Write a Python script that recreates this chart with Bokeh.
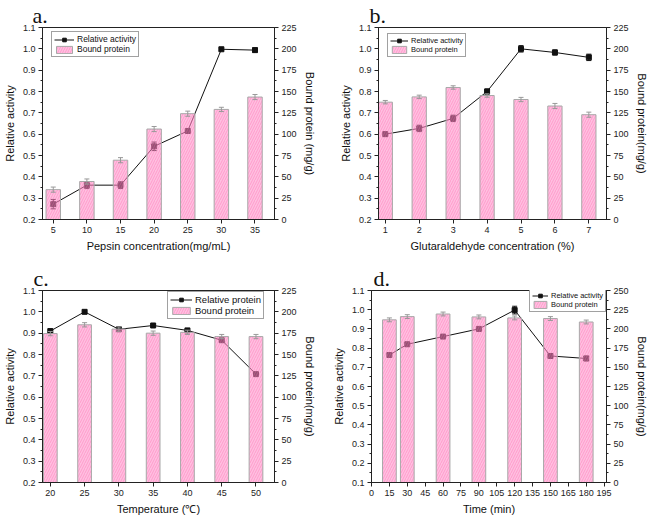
from bokeh.plotting import figure
from bokeh.models import (Range1d, LinearAxis, FixedTicker, SingleIntervalTicker,
                          NumeralTickFormatter, Legend, LegendItem, Title)
from bokeh.layouts import column, row
from bokeh.embed import file_html
from bokeh.resources import INLINE

# ---------------- data ----------------
a_x = [5, 10, 15, 20, 25, 30, 35]
a_act = [0.272, 0.361, 0.361, 0.543, 0.615, 0.998, 0.994]
a_act_err = [0.022, 0.016, 0.016, 0.02, 0.01, 0.005, 0.01]
a_prot = [35, 44.5, 69.5, 106, 124, 129, 143.5]
a_prot_err = [3, 3, 3, 3, 3, 2.5, 3]

b_x = [1, 2, 3, 4, 5, 6, 7]
b_act = [0.60, 0.627, 0.674, 0.80, 1.0, 0.983, 0.96]
b_act_err = [0.01, 0.015, 0.015, 0.012, 0.015, 0.012, 0.015]
b_prot = [137.5, 143.7, 154.7, 145.3, 140.6, 133, 122.8]
b_prot_err = [2, 2, 2, 2, 2.5, 3, 3]

c_x = [20, 25, 30, 35, 40, 45, 50]
c_act = [0.910, 1.0, 0.918, 0.936, 0.913, 0.867, 0.708]
c_act_err = [0.005, 0.004, 0.005, 0.005, 0.005, 0.006, 0.005]
c_prot = [174.5, 184.8, 179.8, 175, 176, 171, 171]
c_prot_err = [2.5, 2.5, 2.5, 2.5, 2.5, 2.5, 2.5]

d_x = [15, 30, 60, 90, 120, 150, 180]
d_act = [0.764, 0.82, 0.86, 0.90, 0.998, 0.759, 0.746]
d_act_err = [0.01, 0.01, 0.008, 0.01, 0.02, 0.012, 0.012]
d_prot = [211.8, 216, 219.4, 215.6, 214.3, 213.5, 209]
d_prot_err = [2.5, 2.5, 2.5, 2.5, 2.5, 2.5, 2.5]
d_xticks = list(range(0, 196, 15))

FONT = "Liberation Sans"
BAR_FILL = "#ff8cc6"
HATCH = "#ff5aa8"
OUTLINE = "#a8a8a8"


def panel(letter, x, act, act_err, prot, prot_err, xr, yl, yr, yl_int, yr_int,
          xticks, bar_w, xlabel, rlabel, line_label, leg_loc, leg_font, leg_gw,
          fw, fh, bl, br, bt, bb, title_off):
    p = figure(frame_width=fw, frame_height=fh, x_range=Range1d(*xr),
               y_range=Range1d(*yl), output_backend="svg", toolbar_location=None,
               min_border_left=bl, min_border_right=br, min_border_top=bt,
               min_border_bottom=bb)
    p.title = Title(text=letter, text_font="Liberation Serif", text_font_size="22px",
                    text_font_style="normal", text_color="#111111", align="left",
                    offset=title_off, standoff=0, text_line_height=0.9)
    p.extra_y_ranges = {"r": Range1d(*yr)}
    p.xgrid.visible = False
    p.ygrid.visible = False
    p.outline_line_color = "#222222"
    p.background_fill_color = "white"

    # right axis
    ra = LinearAxis(y_range_name="r", axis_label=rlabel,
                    ticker=SingleIntervalTicker(interval=yr_int, num_minor_ticks=2))
    p.add_layout(ra, "right")

    p.yaxis[0].ticker = SingleIntervalTicker(interval=yl_int, num_minor_ticks=2)
    p.yaxis[0].formatter = NumeralTickFormatter(format="0.0")
    p.yaxis[0].axis_label = "Relative activity"
    p.xaxis.ticker = FixedTicker(ticks=xticks)
    p.xaxis.axis_label = xlabel

    for ax in p.xaxis + p.yaxis:
        ax.axis_line_color = "#222222"
        ax.major_tick_line_color = "#222222"
        ax.minor_tick_line_color = "#222222"
        ax.major_tick_in = 0
        ax.major_tick_out = 4
        ax.minor_tick_in = 0
        ax.minor_tick_out = 2
        ax.major_label_text_font = FONT
        ax.major_label_text_font_size = "9px"
        ax.major_label_text_color = "#222222"
        ax.major_label_standoff = 3
        ax.axis_label_text_font = FONT
        ax.axis_label_text_font_size = "11px"
        ax.axis_label_text_font_style = "normal"
        ax.axis_label_text_color = "#111111"
        ax.axis_label_standoff = 4
    p.xaxis.minor_tick_line_color = None

    # activity line (under the translucent bars)
    ln = p.line(x, act, line_color="#111111", line_width=1)
    sc = p.scatter(x, act, marker="square", size=5, fill_color="#111111",
                   line_color="#111111")
    lo = [v - e for v, e in zip(act, act_err)]
    hi = [v + e for v, e in zip(act, act_err)]
    p.segment(x, lo, x, hi, line_color="#111111", line_width=1)
    p.scatter(x, lo, marker="dash", size=5, line_color="#111111")
    p.scatter(x, hi, marker="dash", size=5, line_color="#111111")

    # bars on right axis
    bars = p.vbar(x=x, top=prot, bottom=0, width=bar_w, y_range_name="r",
                  fill_color=BAR_FILL, fill_alpha=0.55, line_color=OUTLINE,
                  line_width=1, hatch_pattern="/", hatch_color=HATCH,
                  hatch_alpha=0.45, hatch_scale=5, hatch_weight=0.8)
    plo = [v - e for v, e in zip(prot, prot_err)]
    phi = [v + e for v, e in zip(prot, prot_err)]
    p.segment(x, plo, x, phi, y_range_name="r", line_color="#999999", line_width=1)
    p.scatter(x, plo, marker="dash", size=5, y_range_name="r", line_color="#999999")
    p.scatter(x, phi, marker="dash", size=5, y_range_name="r", line_color="#999999")

    leg = Legend(items=[LegendItem(label=line_label, renderers=[ln, sc]),
                        LegendItem(label="Bound protein", renderers=[bars])],
                 location=leg_loc, border_line_color="#444444", border_line_width=1,
                 background_fill_color="white", background_fill_alpha=1.0,
                 padding=2, spacing=0, margin=0, label_text_font=FONT,
                 label_text_font_size=leg_font, label_text_color="#111111",
                 glyph_width=leg_gw, glyph_height=9, label_height=9, label_standoff=3)
    p.add_layout(leg, "center")
    return p


pa = panel("a.", a_x, a_act, a_act_err, a_prot, a_prot_err, (3.4, 37.9), (0.2, 1.1),
           (0, 225), 0.1, 25, a_x, 2.15, "Pepsin concentration(mg/mL)",
           "Bound protein (mg/g)", "Relative activity", (9, 162), "8.5px", 20,
           232, 192, 36, 52, 14, 44, -10)
pb = panel("b.", b_x, b_act, b_act_err, b_prot, b_prot_err, (0.8, 7.52), (0.2, 1.1),
           (0, 225), 0.1, 25, b_x, 0.42, "Glutaraldehyde concentration (%)",
           "Bound protein(mg/g)", "Relative activity", (9, 162), "7.5px", 18,
           228, 192, 52, 45, 14, 44, -9)
pc = panel("c.", c_x, c_act, c_act_err, c_prot, c_prot_err, (18.86, 52.7), (0.2, 1.1),
           (0, 225), 0.1, 25, c_x, 2.0, "Temperature (\u2103)",
           "Bound protein(mg/g)", "Relative protein", (125, 163), "9.5px", 22,
           232, 192, 36, 52, 22, 40, -9)
pd_ = panel("d.", d_x, d_act, d_act_err, d_prot, d_prot_err, (0, 197), (0.1, 1.1),
            (0, 250), 0.1, 25, d_xticks, 11.5, "Time (min)",
            "Bound protein(mg/g)", "Relative activity", (158, 170), "7.5px", 16,
            235, 192, 45, 45, 26, 36, 2)

layout = column(row(pa, pb), row(pc, pd_))
open("out.html", "w").write(file_html(layout, INLINE))
